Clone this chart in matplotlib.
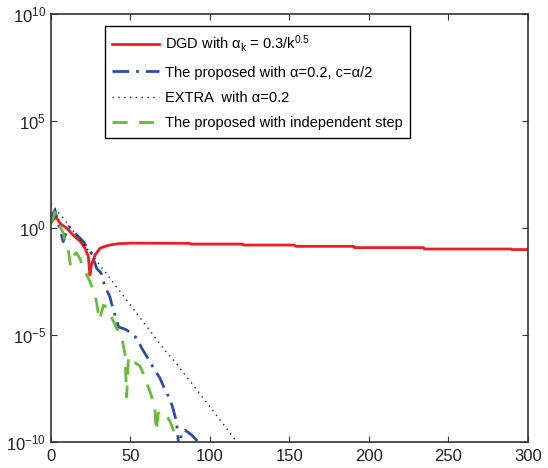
import numpy as np
import matplotlib
matplotlib.use("Agg")
import matplotlib.pyplot as plt

plt.rcParams['font.family'] = ['Liberation Sans', 'DejaVu Sans']
plt.rcParams['mathtext.fontset'] = 'custom'
plt.rcParams['mathtext.rm'] = 'Liberation Sans'
plt.rcParams['mathtext.it'] = 'Liberation Sans'
plt.rcParams['mathtext.bf'] = 'Liberation Sans'

# ---- data (iteration, log10 of error) ----
dgd_k = [0, 1, 2.5, 4, 6, 9.8, 12, 15, 18.2, 21.4, 23.5, 24.5, 25.5, 27.7, 30.8,
         34, 37, 42, 50, 87, 88, 120.5, 121, 153, 154, 190.5, 191, 234.5, 235,
         289.5, 290, 300]
dgd_log = [0.26, 0.35, 0.51, 0.42, 0.2, 0.0, -0.17, -0.4, -0.6, -0.94, -1.33, -2.19,
           -1.7, -1.26, -0.94, -0.85, -0.79, -0.73, -0.70, -0.71, -0.745, -0.745,
           -0.79, -0.79, -0.85, -0.85, -0.91, -0.91, -0.975, -0.975, -1.0, -1.0]

prop_k = [0, 2.5, 5, 7.7, 9.5, 11, 15, 20, 25.6, 28.7, 31.5, 34, 37, 39.2, 41.3,
          42.5, 45, 47, 51, 54, 57, 61, 65, 68.6, 72, 75, 77, 79, 80.5, 82.3,
          84.3, 88.5, 92, 95]
prop_log = [0.5, 0.85, 0.1, -0.63, -0.2, 0.07, -0.22, -0.6, -1.18, -1.88, -2.1,
            -2.74, -3.2, -3.83, -4.3, -4.62, -4.68, -4.74, -4.93, -5.15, -5.6,
            -6.09, -6.6, -7.02, -7.6, -8.0, -8.5, -9.05, -10.3, -9.55, -9.44,
            -9.67, -9.95, -10.3]

extra_k = [0, 10, 20, 34, 50, 72, 78, 100, 116, 120]
extra_log = [1.16, 0.25, -0.7, -2.04, -3.6, -5.75, -6.25, -8.35, -9.9, -10.3]

ind_k = [0, 2.5, 5, 7.5, 9, 11, 12.3, 14, 16, 18, 21, 24.5, 27, 28.5, 30.5, 33,
         35, 38, 41.3, 44.5, 46.6, 47.6, 48.7, 50.8, 53, 56, 58, 60.2, 62.3,
         64.4, 65.4, 66.2, 67.5, 69, 70.7, 73, 75, 77, 79, 80, 81]
ind_log = [0.2, 0.75, 0.2, -0.2, -0.65, -1.1, -1.75, -1.3, -1.15, -1.4, -1.95,
           -2.5, -3.0, -3.4, -4.3, -3.6, -3.7, -4.15, -4.68, -5.1, -5.9, -7.9,
           -6.1, -6.4, -6.3, -6.45, -6.79, -7.26, -7.65, -8.12, -8.5, -9.5,
           -8.66, -8.55, -8.6, -8.8, -9.05, -9.44, -9.75, -10.0, -10.3]

labels = [r'DGD with $\alpha_k$ = 0.3/k$^{0.5}$',
          'The proposed with α=0.2, c=α/2',
          'EXTRA  with α=0.2',
          'The proposed with independent step']

x_ticks = [0, 50, 100, 150, 200, 250, 300]
y_ticks = [1e-10, 1e-5, 1e0, 1e5, 1e10]

fig = plt.figure(figsize=(5.48, 4.68), dpi=100)
ax = fig.add_axes([51 / 548, 1 - 442 / 468, (527.7 - 51) / 548, (442 - 14.3) / 468])

ax.plot(dgd_k, 10 ** np.array(dgd_log), color='#ee1c25', lw=2.0, ls='-', label=labels[0])
ax.plot(prop_k, 10 ** np.array(prop_log), color='#2b4ea6', lw=2.0,
        ls=(0, (6, 2.5, 1, 2.5)), label=labels[1])
ax.plot(extra_k, 10 ** np.array(extra_log), color='#222222', lw=1.0,
        ls=(0, (1, 3.2)), label=labels[2])
ax.plot(ind_k, 10 ** np.array(ind_log), color='#66bb3a', lw=2.0,
        ls=(0, (5.5, 4)), label=labels[3])

ax.set_yscale('log')
ax.set_xlim(0, 300)
ax.set_ylim(1e-10, 1e10)
ax.set_xticks(x_ticks)
ax.set_yticks(y_ticks)
ax.yaxis.set_minor_locator(matplotlib.ticker.NullLocator())
ax.tick_params(direction='in', top=True, right=True, length=4, width=0.8,
               labelsize=12, colors='#333333', labelcolor='#222222')
ax.tick_params(axis='x', pad=5)
for s in ax.spines.values():
    s.set_color('#333333')
    s.set_linewidth(1.2)

leg = ax.legend(loc='upper left', bbox_to_anchor=(0.113, 0.973), borderaxespad=0,
                fancybox=False, framealpha=1, edgecolor='black', fontsize=10.5,
                handlelength=3.2, labelspacing=0.78, borderpad=0.5,
                handletextpad=0.4)
leg.get_frame().set_linewidth(1.0)

fig.savefig('out.png', dpi=100)
